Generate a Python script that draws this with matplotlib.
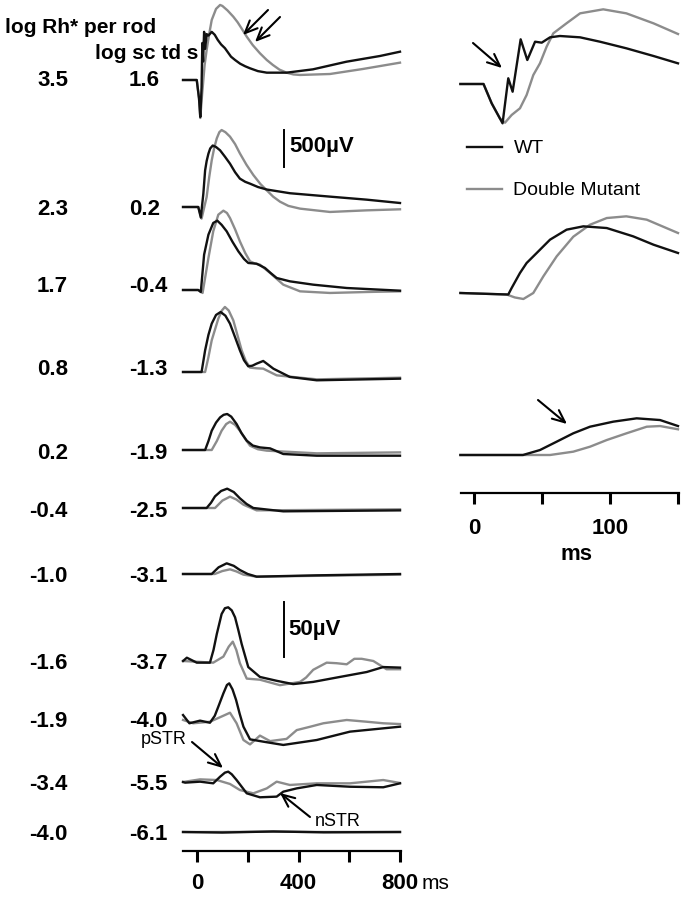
import matplotlib
matplotlib.use('Agg')
import matplotlib.pyplot as plt

plt.rcParams['font.family'] = ['Liberation Sans', 'DejaVu Sans']

# flash strengths (two units)
rh_labels = ['3.5', '2.3', '1.7', '0.8', '0.2', '-0.4', '-1.0', '-1.6', '-1.9', '-3.4', '-4.0']
td_labels = ['1.6', '0.2', '-0.4', '-1.3', '-1.9', '-2.5', '-3.1', '-3.7', '-4.0', '-5.5', '-6.1']

# ---- left panel: time (ms) / amplitude (uV), WT and double mutant ----
wt_35_t = [-55, -1, 8, 13, 18, 21, 24, 28, 32, 38, 45, 58, 70, 82, 95, 110, 134, 150, 170, 190, 209, 240, 275, 353, 457, 589, 721, 800]
wt_35_uv = [0, 0, -250, -500, -100, 500, 250, 650, 420, 620, 600, 650, 610, 540, 480, 430, 315, 270, 220, 185, 158, 120, 99, 99, 144, 247, 324, 382]
dm_35_t = [-55, -1, 8, 13, 20, 30, 38, 48, 58, 75, 91, 100, 120, 143, 160, 175, 196, 220, 248, 275, 299, 325, 353, 380, 406, 524, 654, 800]
dm_35_uv = [0, 0, -250, -513, -200, 200, 405, 620, 810, 960, 1013, 1000, 940, 855, 780, 700, 585, 470, 361, 270, 203, 140, 99, 75, 68, 81, 149, 234]

wt_23_t = [-55, 5, 15, 25, 32, 38, 45, 52, 62, 75, 91, 110, 130, 150, 169, 190, 209, 240, 275, 366, 524, 669, 800]
wt_23_uv = [0, 0, -142, 180, 495, 620, 720, 790, 830, 810, 765, 680, 585, 470, 383, 340, 315, 270, 236, 186, 140, 99, 54]
dm_23_t = [-55, 5, 18, 38, 48, 58, 68, 78, 88, 97, 112, 130, 150, 169, 195, 222, 250, 275, 300, 327, 360, 406, 524, 669, 800]
dm_23_uv = [0, 0, -157, 135, 400, 630, 800, 927, 1010, 1039, 1010, 950, 850, 724, 570, 432, 310, 225, 140, 72, 15, -22, -67, -45, -31]

wt_17_t = [-55, 5, 15, 28, 45, 64, 80, 97, 117, 140, 163, 185, 202, 235, 268, 290, 314, 366, 458, 590, 800]
wt_17_uv = [0, 0, -27, 477, 747, 905, 936, 880, 792, 650, 522, 420, 365, 355, 297, 230, 162, 117, 72, 27, -9]
dm_17_t = [-55, 5, 22, 45, 64, 84, 104, 118, 130, 150, 169, 190, 209, 230, 248, 288, 340, 406, 524, 669, 800]
dm_17_uv = [0, 0, -40, 432, 792, 1017, 1071, 1040, 972, 820, 657, 500, 387, 355, 342, 230, 72, -18, -40, -27, -18]

wt_08_t = [-55, 18, 32, 45, 58, 75, 93, 112, 130, 150, 169, 185, 202, 218, 235, 261, 280, 301, 366, 472, 800]
wt_08_uv = [0, 0, 293, 500, 653, 770, 810, 760, 653, 470, 293, 160, 77, 85, 113, 149, 100, 45, -67, -112, -90]
dm_08_t = [-55, 32, 45, 58, 84, 98, 110, 125, 143, 160, 176, 192, 209, 235, 261, 314, 472, 800]
dm_08_uv = [0, 0, 200, 428, 720, 830, 878, 830, 698, 490, 293, 150, 59, 50, 45, -45, -99, -77]

wt_02_t = [-55, 32, 45, 58, 75, 91, 105, 119, 135, 156, 175, 196, 220, 248, 288, 340, 472, 800]
wt_02_uv = [0, 0, 120, 260, 370, 440, 475, 486, 450, 351, 230, 126, 60, 35, 22, -54, -77, -77]
dm_02_t = [-55, 58, 78, 97, 115, 130, 150, 169, 190, 209, 240, 275, 472, 800]
dm_02_uv = [0, 0, 120, 260, 350, 382, 340, 260, 150, 58, 10, -9, -45, -32]

wt_m04_t = [-55, 38, 55, 71, 95, 119, 145, 169, 195, 222, 340, 800]
wt_m04_uv = [0, 0, 70, 157, 230, 261, 215, 131, 55, 0, -45, -32]
dm_m04_t = [-55, 71, 100, 130, 155, 183, 235, 800]
dm_m04_uv = [0, 0, 100, 153, 115, 45, -32, -18]

wt_m10_t = [-55, 58, 85, 117, 145, 169, 200, 235, 472, 800]
wt_m10_uv = [0, 0, 90, 144, 110, 54, 0, -36, -18, 0]
dm_m10_t = [-55, 70, 100, 130, 155, 183, 235, 800]
dm_m10_uv = [0, 0, 40, 63, 35, -9, -36, -9]

wt_m16_t = [-55, -40, -1, 51, 65, 78, 97, 110, 123, 137, 150, 163, 176, 202, 248, 314, 379, 458, 563, 669, 734, 800]
wt_m16_uv = [0, 3, -1.5, -1.5, 10, 24.5, 42.7, 48, 48.8, 46, 39.7, 28, 15.5, -5.5, -14.5, -18, -21, -19, -14.5, -10, -5.5, -6]
dm_m16_t = [-55, 64, 104, 125, 141, 155, 169, 196, 248, 327, 406, 430, 458, 511, 550, 590, 620, 649, 695, 747, 800]
dm_m16_uv = [0, -1.5, 4, 13, 17.6, 10, -2, -16, -17, -22, -19, -15, -8, -1.5, -2, -3, 2, 2, 0, -7.5, -7.5]

wt_m19_t = [-55, -30, 12, 51, 70, 84, 104, 118, 127, 140, 154, 168, 183, 209, 261, 340, 472, 603, 734, 800]
wt_m19_uv = [2.7, -4.8, -2.4, -4.3, 2, 10.3, 22.4, 30, 31.5, 26, 16.4, 4, -7.9, -19.4, -21.5, -24.5, -20, -12.4, -9.4, -7.9]
dm_m19_t = [-55, -15, 51, 84, 110, 130, 156, 183, 209, 248, 288, 353, 393, 445, 498, 590, 669, 734, 800]
dm_m19_uv = [-1.8, -4.8, -3.4, 0, 2.7, 4.8, -4.8, -20, -24, -16, -21, -19, -11, -8, -4.8, -1.8, -3.4, -4.8, -5.5]

wt_m34_t = [-55, -47, 12, 64, 91, 110, 123, 137, 156, 196, 248, 314, 340, 393, 472, 603, 734, 800]
wt_m34_uv = [0, -0.6, 0.3, -1.2, 4.8, 8.5, 9.4, 7, 1.8, -10.3, -13.9, -13.3, -8.8, -5.8, -2.7, -4.3, -4.8, -1.2]
dm_m34_t = [-55, 12, 78, 130, 169, 222, 275, 314, 366, 472, 603, 734, 800]
dm_m34_uv = [0, 2.4, 1.8, -1.8, -7.3, -10.3, -5.8, 0.3, -2.7, -1.2, -1.2, 1.8, -0.9]

wt_m40_t = [-55, 100, 300, 500, 800]
wt_m40_uv = [0, -0.5, 0.5, -0.3, 0]
dm_m40_t = [-55, 100, 300, 500, 800]
dm_m40_uv = [0, 0, 0.3, 0, 0]

# ---- right panel: first 150 ms ----
r_wt_1_t = [-10, 7, 13, 19, 21, 25.2, 28.4, 34.3, 39.2, 44.9, 49.8, 55.9, 63.2, 78, 92.6, 112, 132, 150]
r_wt_1_uv = [0, 0, -261, -463, -531, 77, -104, 603, 324, 571, 558, 630, 648, 630, 571, 482, 378, 279]
r_dm_1_t = [-10, 7, 13, 19, 22.8, 27.7, 33.8, 38.7, 43.6, 48.5, 53.4, 58.3, 68, 78, 95, 112, 132, 150]
r_dm_1_uv = [0, 0, -261, -463, -522, -418, -328, -148, 121, 279, 504, 684, 819, 954, 1008, 954, 819, 675]

r_wt_2_t = [-10, 24, 25.2, 27.7, 33.8, 38.7, 46.1, 55.9, 68.1, 80.4, 97.6, 117, 132, 150]
r_wt_2_uv = [0, -20, -20, 68, 270, 405, 540, 720, 855, 900, 877, 765, 652, 540]
r_dm_2_t = [-10, 24, 30, 36.3, 43.6, 51, 60.8, 73, 85.3, 97.6, 112, 127, 150]
r_dm_2_uv = [0, -20, -60, -81, 0, 225, 495, 760, 922, 1012, 1035, 990, 810]

r_wt_3_t = [-10, 36, 48.5, 60.8, 73, 85.3, 102.4, 119.6, 136.8, 150]
r_wt_3_uv = [0, 0, 67, 180, 293, 382, 450, 495, 472, 391]
r_dm_3_t = [-10, 55.9, 73, 85.3, 97.6, 112, 127, 136.8, 150]
r_dm_3_uv = [0, 0, 45, 112, 202, 292, 382, 391, 347]

left_wt = [(wt_35_t, wt_35_uv), (wt_23_t, wt_23_uv), (wt_17_t, wt_17_uv), (wt_08_t, wt_08_uv),
           (wt_02_t, wt_02_uv), (wt_m04_t, wt_m04_uv), (wt_m10_t, wt_m10_uv), (wt_m16_t, wt_m16_uv),
           (wt_m19_t, wt_m19_uv), (wt_m34_t, wt_m34_uv), (wt_m40_t, wt_m40_uv)]
left_dm = [(dm_35_t, dm_35_uv), (dm_23_t, dm_23_uv), (dm_17_t, dm_17_uv), (dm_08_t, dm_08_uv),
           (dm_02_t, dm_02_uv), (dm_m04_t, dm_m04_uv), (dm_m10_t, dm_m10_uv), (dm_m16_t, dm_m16_uv),
           (dm_m19_t, dm_m19_uv), (dm_m34_t, dm_m34_uv), (dm_m40_t, dm_m40_uv)]
right_wt = [(r_wt_1_t, r_wt_1_uv), (r_wt_2_t, r_wt_2_uv), (r_wt_3_t, r_wt_3_uv)]
right_dm = [(r_dm_1_t, r_dm_1_uv), (r_dm_2_t, r_dm_2_uv), (r_dm_3_t, r_dm_3_uv)]

# layout (pixel units, y downwards)
W, H = 696, 899
row_base = [80, 207, 290, 372, 450, 508, 574, 661, 718, 782, 832]
row_gain = [1 / 13.5] * 7 + [1.1] * 4          # px per uV (500 uV bar vs 50 uV bar)
label_y = [78, 207, 284, 367, 451, 509, 574, 661, 719, 782, 832]
r_base = [84, 293, 455]
r_gain = 1 / 13.5
WT_C = '#111111'
DM_C = '#8c8c8c'
LW = 1.7

fig = plt.figure(figsize=(W / 100, H / 100), dpi=100)

def px_axes(x0, x1, ybot):
    return fig.add_axes([x0 / W, (H - ybot) / H, (x1 - x0) / W, ybot / H])

# left traces
axL = px_axes(183, 400.5, 851)
axL.set_xlim((183 - 197) / 0.25375, (400.5 - 197) / 0.25375)
axL.set_ylim(851, 0)
for i in range(len(row_base)):
    for (t, uv), c in ((left_dm[i], DM_C), (left_wt[i], WT_C)):
        axL.plot(t, [row_base[i] - v * row_gain[i] for v in uv], color=c, lw=LW,
                 clip_on=False, solid_joinstyle='round')
# scale bars
axL.plot([343, 343], [167, 167 - 500 * row_gain[0]], color='black', lw=1.4)
axL.plot([343, 343], [657, 657 - 50 * row_gain[7]], color='black', lw=1.4)

# right traces
axR = px_axes(461, 679, 493)
axR.set_xlim((461 - 474) / 1.36, (679 - 474) / 1.36)
axR.set_ylim(493, 0)
for i in range(3):
    for (t, uv), c in ((right_dm[i], DM_C), (right_wt[i], WT_C)):
        axR.plot(t, [r_base[i] - v * r_gain for v in uv], color=c, lw=LW,
                 clip_on=False, solid_joinstyle='round')

for ax, ticks, labels, pad in ((axL, [0, 200, 400, 600, 800], ['0', '', '400', '', '800'], 8),
                               (axR, [0, 50, 100, 150], ['0', '', '100', ''], 10)):
    for s in ('top', 'left', 'right'):
        ax.spines[s].set_visible(False)
    ax.spines['bottom'].set_linewidth(1.6)
    ax.set_yticks([])
    ax.set_xticks(ticks)
    ax.set_xticklabels(labels, fontsize=16, fontweight='bold')
    ax.tick_params(axis='x', direction='out', length=8, width=2.2, pad=pad)
    ax.patch.set_visible(False)

# overlay for text and arrows, in pixel coordinates
ov = fig.add_axes([0, 0, 1, 1])
ov.set_xlim(0, W)
ov.set_ylim(H, 0)
ov.axis('off')

ov.text(5, 33, 'log Rh* per rod', fontsize=15, fontweight='bold', ha='left', va='baseline')
ov.text(95, 59, 'log sc td s', fontsize=15, fontweight='bold', ha='left', va='baseline')
for i in range(len(rh_labels)):
    ov.text(68, label_y[i] + 8, rh_labels[i], fontsize=16, fontweight='bold', ha='right', va='baseline')
    ov.text(129, label_y[i] + 8, td_labels[i], fontsize=16, fontweight='bold', ha='left', va='baseline')

ov.text(289, 152, '500\u00b5V', fontsize=16, fontweight='bold', ha='left', va='baseline')
ov.text(288, 635, '50\u00b5V', fontsize=16, fontweight='bold', ha='left', va='baseline')
ov.text(422, 889, 'ms', fontsize=15, ha='left', va='baseline')
ov.text(577, 560, 'ms', fontsize=16, fontweight='bold', ha='center', va='baseline')

# legend
ov.plot([467, 502], [147, 147], color=WT_C, lw=LW)
ov.plot([467, 502], [189, 189], color=DM_C, lw=LW)
ov.text(514, 153, 'WT', fontsize=14, ha='left', va='baseline')
ov.text(513, 195, 'Double Mutant', fontsize=14, ha='left', va='baseline')

ov.text(141, 744, 'pSTR', fontsize=13, ha='left', va='baseline')
ov.text(315, 826, 'nSTR', fontsize=13, ha='left', va='baseline')

arrow = dict(arrowstyle='->, head_length=0.5, head_width=0.22', color='black', lw=1.5,
             mutation_scale=18, shrinkA=0, shrinkB=0)
for tail, head in (((268, 10), (243, 35)), ((280, 17), (255, 42)),
                   ((473, 43), (502, 68)), ((538, 400), (567, 424)),
                   ((192, 742), (223, 768)), ((310, 817), (280, 793))):
    ov.annotate('', xy=head, xytext=tail, arrowprops=arrow)

fig.savefig('out.png', dpi=100)
